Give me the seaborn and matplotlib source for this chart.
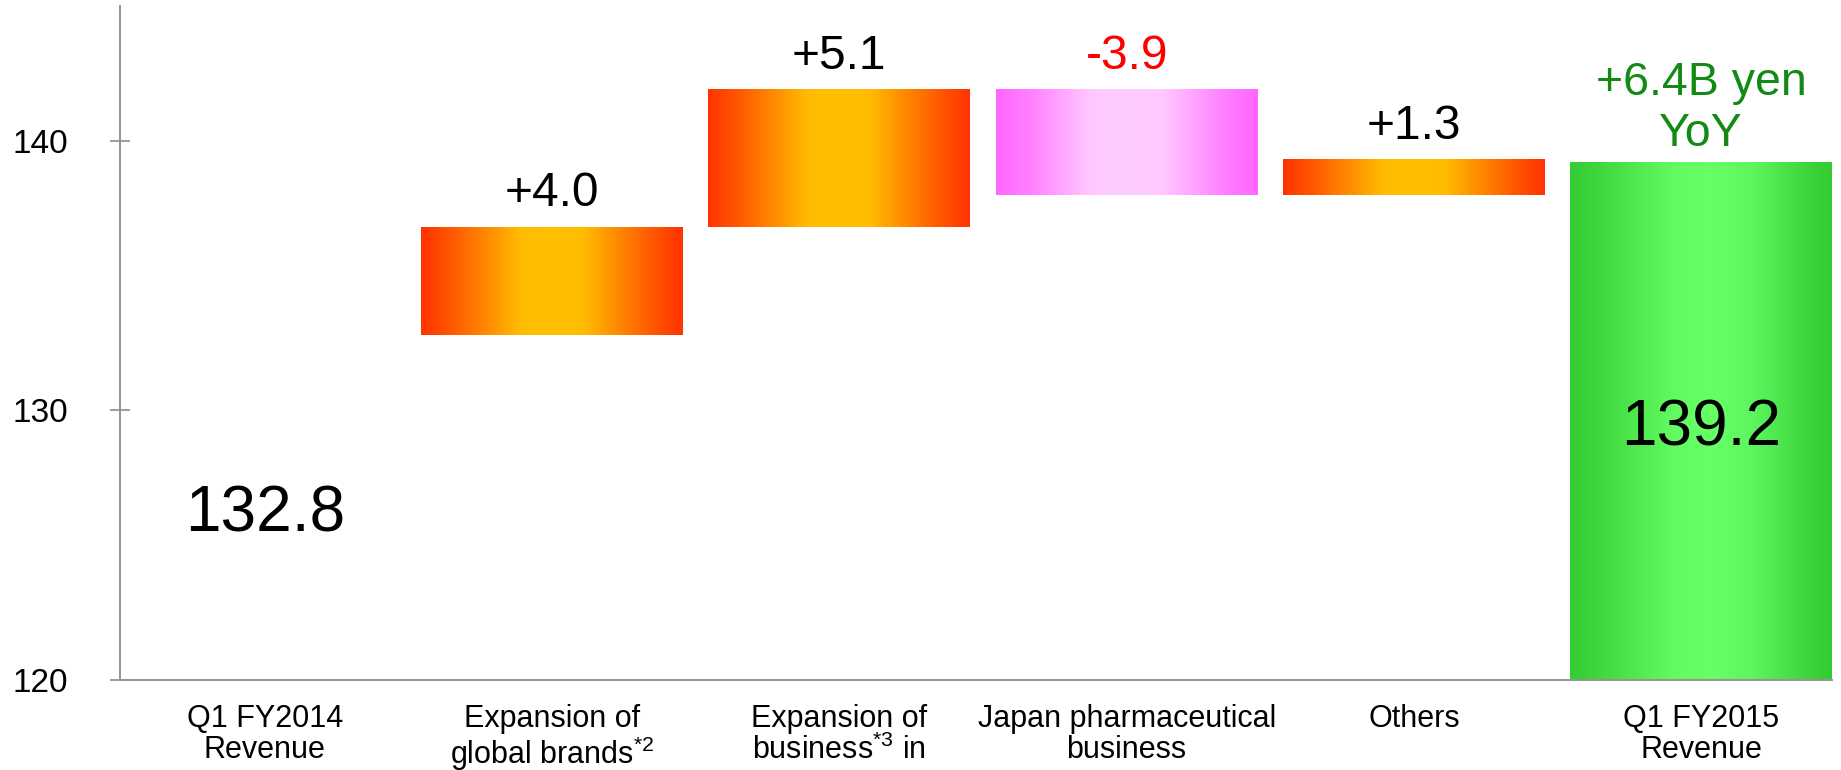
import numpy as np
import matplotlib
matplotlib.use("Agg")
import matplotlib.pyplot as plt
import seaborn as sns
from matplotlib.colors import LinearSegmentedColormap

# ---- data -------------------------------------------------------------
categories = [
    "Q1 FY2014\nRevenue",
    "Expansion of\nglobal brands$^{*2}$",
    "Expansion of\nbusiness$^{*3}$ in",
    "Japan pharmaceutical\nbusiness",
    "Others",
    "Q1 FY2015\nRevenue",
]
start_total = 132.8
changes = [4.0, 5.1, -3.9, 1.3]
end_total = 139.2
change_labels = ["+4.0", "+5.1", "-3.9", "+1.3"]
total_labels = ["132.8", "139.2"]
yoy_label = "+6.4B yen\nYoY"
yticks = [120, 130, 140]
ylim = (120, 145)

# ---- style ------------------------------------------------------------
sns.set_theme(style="white")
plt.rcParams["font.family"] = ["Liberation Sans", "DejaVu Sans"]
plt.rcParams["mathtext.fontset"] = "custom"
plt.rcParams["mathtext.rm"] = "Liberation Sans"
plt.rcParams["mathtext.default"] = "rm"

ORANGE = LinearSegmentedColormap.from_list(
    "warm", [(0.0, "#ff3300"), (0.12, "#ff5a00"), (0.38, "#ffbb00"),
             (0.5, "#ffc000"), (0.62, "#ffbb00"), (0.88, "#ff5a00"), (1.0, "#ff3300")])
PINK = LinearSegmentedColormap.from_list(
    "pink", [(0.0, "#ff66ff"), (0.12, "#ff7dff"), (0.36, "#ffc8ff"),
             (0.5, "#ffccff"), (0.64, "#ffc8ff"), (0.88, "#ff7dff"), (1.0, "#ff66ff")])
GREEN = LinearSegmentedColormap.from_list(
    "green", [(0.0, "#33cc33"), (0.1, "#3dd63d"), (0.4, "#62fb62"),
              (0.55, "#66ff66"), (0.7, "#5ef65e"), (0.92, "#3ad33a"), (1.0, "#33cc33")])

# ---- waterfall geometry ----------------------------------------------
levels = np.concatenate([[start_total], start_total + np.cumsum(changes)])
bottoms = [0.0]
heights = [start_total]
for before, after in zip(levels[:-1], levels[1:]):
    bottoms.append(min(before, after))
    heights.append(abs(after - before))
bottoms.append(0.0)
heights.append(end_total)

fills = [None] + [ORANGE if c > 0 else PINK for c in changes] + [GREEN]

fig = plt.figure(figsize=(18.41, 7.70), dpi=100)
ax = fig.add_axes([0.0652, 0.1169, 0.930, 0.8753])

sns.barplot(x=categories, y=heights, color="white", width=0.912,
            saturation=1, linewidth=0, ax=ax)

grad = np.linspace(0, 1, 512).reshape(1, -1)
for patch, b, cmap in zip(ax.patches, bottoms, fills):
    patch.set_y(b)
    patch.set_edgecolor("none")
    patch.set_facecolor("none")
    if cmap is None:
        continue
    x0, w, h = patch.get_x(), patch.get_width(), patch.get_height()
    lo = max(b, ylim[0])
    ax.imshow(grad, cmap=cmap, aspect="auto", interpolation="bilinear",
              extent=(x0, x0 + w, lo, b + h), zorder=2)

ax.set_xlim(-0.504, 5.456)
ax.set_ylim(*ylim)
ax.set_yticks(yticks)
ax.set_yticklabels([str(t) for t in yticks])

# ---- labels -------------------------------------------------------------
tops = [b + h for b, h in zip(bottoms, heights)]
for i, (lab, c) in enumerate(zip(change_labels, changes), start=1):
    ax.annotate(lab, (i, tops[i]), xytext=(0, 15), textcoords="offset points",
                ha="center", va="baseline", fontsize=34.5,
                color="#ff0000" if c < 0 else "black", zorder=4)

ax.annotate(total_labels[0], (0, (ylim[0] + start_total) / 2), xytext=(0, -5),
            textcoords="offset points", ha="center", va="center",
            fontsize=46, color="black", zorder=4)
ax.annotate(total_labels[1], (5, (ylim[0] + end_total) / 2), xytext=(0, -5),
            textcoords="offset points", ha="center", va="center",
            fontsize=46, color="black", zorder=4)
ax.annotate(yoy_label, (5, tops[5]), xytext=(0, 12), textcoords="offset points",
            ha="center", va="baseline", fontsize=33.5, color="#138a13",
            linespacing=1.2, zorder=4)

# ---- axes styling -------------------------------------------------------
for side in ("top", "right"):
    ax.spines[side].set_visible(False)
for side in ("left", "bottom"):
    ax.spines[side].set_color("#959595")
    ax.spines[side].set_linewidth(1.4)
    ax.spines[side].set_zorder(5)
ax.tick_params(axis="y", left=True, direction="inout", length=15, width=1.3,
               colors="#959595", labelcolor="black", labelsize=24, pad=30)
ax.tick_params(axis="x", bottom=False, length=0, labelsize=22,
               labelcolor="black", pad=17)
for t in ax.get_xticklabels():
    t.set_linespacing(1.05)
ax.set_xlabel("")
ax.set_ylabel("")
ax.grid(False)

fig.savefig("out.png", dpi=100)
